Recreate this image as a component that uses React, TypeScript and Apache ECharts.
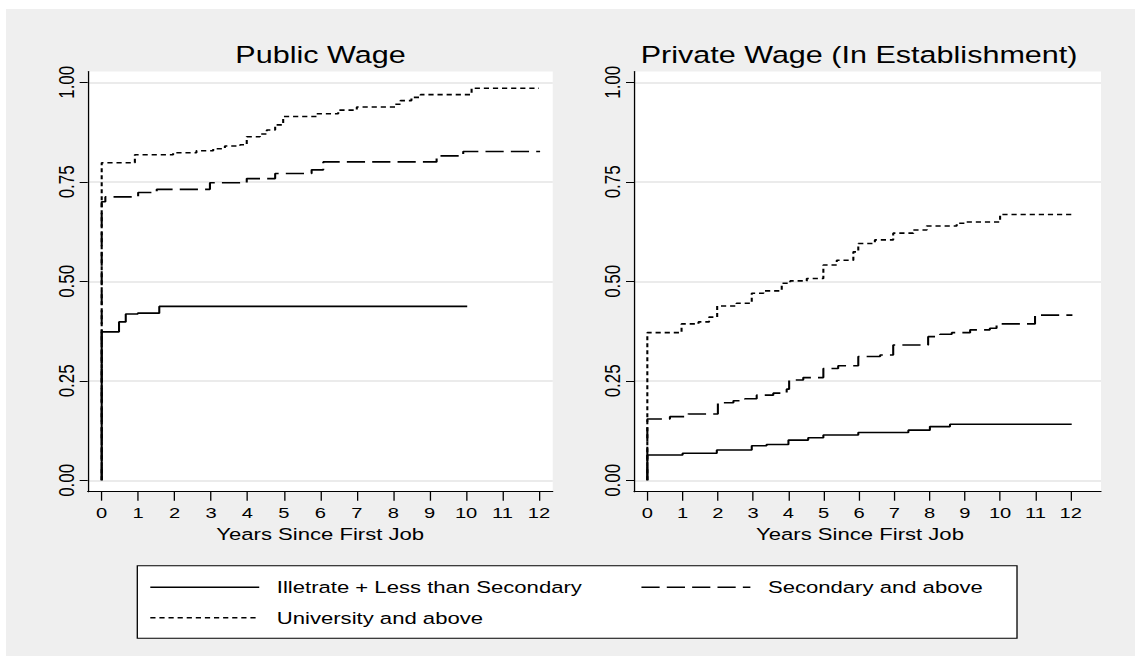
import React, { useEffect, useRef } from "react";
import * as echarts from "echarts";

// The whole figure is laid out in a narrower box and widened horizontally.
const STRETCH = 1.3;
const PAGE_W = 1129;
const PAGE_H = 647;
const CHART_W = PAGE_W / STRETCH;

const FONT = "'Liberation Sans', Arial, Helvetica, sans-serif";

const panelTitles = ["Public Wage", "Private Wage (In Establishment)"];
const xAxisTitle = "Years Since First Job";
const groupNames = [
  "Illetrate + Less than Secondary",
  "Secondary and above",
  "University and above",
];

const yTicks = [0, 0.25, 0.5, 0.75, 1];
const xTicks = [0, 1, 2, 3, 4, 5, 6, 7, 8, 9, 10, 11, 12];

// Cumulative share by years since first job: [years, share]
const publicIlliterate: [number, number][] = [
  [0, 0], [0, 0.373], [0.475, 0.398], [0.66, 0.418], [0.99, 0.42],
  [1.58, 0.437], [10.03, 0.437],
];
const publicSecondary: [number, number][] = [
  [0, 0], [0, 0.7], [0.1, 0.712], [1.0, 0.723], [1.51, 0.731],
  [2.97, 0.7475], [3.98, 0.758], [4.76, 0.771], [5.76, 0.78], [6.08, 0.8],
  [9.19, 0.815], [9.92, 0.826], [12.03, 0.826],
];
const publicUniversity: [number, number][] = [
  [0, 0], [0, 0.798], [0.91, 0.818], [1.96, 0.823], [2.6, 0.828],
  [3.06, 0.833], [3.38, 0.84], [3.8, 0.843], [3.98, 0.863], [4.34, 0.87],
  [4.53, 0.88], [4.76, 0.893], [4.98, 0.914], [5.9, 0.921], [6.49, 0.93],
  [7.0, 0.938], [8.05, 0.945], [8.2, 0.954], [8.5, 0.962], [8.75, 0.969],
  [10.15, 0.985], [12.0, 0.985],
];

const privateIlliterate: [number, number][] = [
  [0, 0], [0, 0.0636], [1.0, 0.068], [1.97, 0.076], [2.96, 0.087],
  [3.38, 0.09], [4.0, 0.101], [4.56, 0.107], [4.99, 0.114], [5.98, 0.12],
  [7.4, 0.126], [8.01, 0.135], [8.58, 0.141], [12.03, 0.141],
];
const privateSecondary: [number, number][] = [
  [0, 0], [0, 0.154], [0.64, 0.16], [1.16, 0.1666], [2.0, 0.195],
  [2.44, 0.2], [2.77, 0.205], [3.1, 0.214], [3.57, 0.219], [3.95, 0.229],
  [4.02, 0.252], [4.42, 0.258], [4.99, 0.281], [5.41, 0.288], [5.98, 0.311],
  [6.6, 0.315], [6.97, 0.34], [7.96, 0.361], [8.3, 0.367], [8.63, 0.371],
  [9.15, 0.378], [9.71, 0.382], [9.9, 0.393], [10.99, 0.415], [12.05, 0.415],
];
const privateUniversity: [number, number][] = [
  [0, 0], [0, 0.371], [0.97, 0.393], [1.45, 0.398], [1.75, 0.41],
  [1.98, 0.438], [2.53, 0.445], [2.96, 0.47], [3.29, 0.476], [3.81, 0.495],
  [4.05, 0.501], [4.52, 0.507], [4.99, 0.541], [5.37, 0.553], [5.84, 0.574],
  [5.98, 0.595], [6.45, 0.604], [6.97, 0.621], [7.54, 0.629], [7.92, 0.639],
  [8.77, 0.646], [9.0, 0.649], [10.0, 0.668], [12.07, 0.668],
];

const dashFor: (number[] | "solid")[] = ["solid", [14, 5.5], [4, 3]];

const panels = [
  {
    grid: { left: 62.85, top: 62.5, width: 357.7, height: 420.2 },
    xMin: -0.384,
    xMax: 12.376,
    titleX: 241.9,
    namePad: [0, 0, 0, 0],
    data: [publicIlliterate, publicSecondary, publicUniversity],
  },
  {
    grid: { left: 483.1, top: 62.5, width: 359.2, height: 420.2 },
    xMin: -0.377,
    xMax: 12.86,
    titleX: 656.2,
    namePad: [0, 11.6, 0, 0],
    data: [privateIlliterate, privateSecondary, privateUniversity],
  },
];

function buildOption(): echarts.EChartsOption {
  const grids = panels.map((p) => ({
    ...p.grid,
    show: true,
    backgroundColor: "#ffffff",
    borderWidth: 0,
    containLabel: false,
  }));

  const xAxes = panels.map((p, i) => ({
    type: "value" as const,
    gridIndex: i,
    min: p.xMin,
    max: p.xMax,
    name: xAxisTitle,
    nameLocation: "middle" as const,
    nameGap: 25,
    nameTextStyle: {
      fontSize: 17,
      color: "#000",
      fontFamily: FONT,
      padding: p.namePad,
    },
    axisLine: { show: true, onZero: false, lineStyle: { color: "#000", width: 1 } },
    axisTick: { show: true, customValues: xTicks, length: 9, lineStyle: { color: "#000", width: 1 } },
    axisLabel: {
      customValues: xTicks,
      fontSize: 15.5,
      color: "#000",
      fontFamily: FONT,
      margin: 13,
      formatter: (v: number) => String(v),
    },
    splitLine: { show: false },
  }));

  const yAxes = panels.map((_, i) => ({
    type: "value" as const,
    gridIndex: i,
    min: -0.0286,
    max: 1.0271,
    axisLine: { show: true, onZero: false, lineStyle: { color: "#000", width: 1 } },
    axisTick: { show: true, customValues: yTicks, length: 6.2, lineStyle: { color: "#000", width: 1 } },
    axisLabel: {
      customValues: yTicks,
      rotate: 90,
      fontSize: 17,
      color: "#000",
      fontFamily: FONT,
      margin: 8,
      formatter: (v: number) => v.toFixed(2),
    },
    splitLine: { show: true, lineStyle: { color: "#e4e4e4", width: 1.5 } },
  }));

  const series: any[] = [];
  panels.forEach((p, i) => {
    p.data.forEach((d, k) => {
      series.push({
        type: "line",
        name: groupNames[k],
        xAxisIndex: i,
        yAxisIndex: i,
        data: d,
        step: "end",
        symbol: "none",
        silent: true,
        lineStyle: { color: "#000", width: 1.6, type: dashFor[k] },
        itemStyle: { color: "#000", opacity: 0 },
      });
    });
  });

  // Legend keys show the line pattern only, no marker.
  const legendBase = {
    orient: "vertical" as const,
    top: 569.8,
    itemWidth: 83.8,
    itemHeight: 17,
    itemGap: 13.4,
    padding: 0,
    selectedMode: false,
    itemStyle: { color: "rgba(0,0,0,0)", borderWidth: 0, opacity: 0 },
    lineStyle: { color: "#000", width: 1.6 },
    textStyle: {
      fontSize: 17,
      color: "#000",
      fontFamily: FONT,
      padding: [0, 0, 0, 8.5],
    },
  };

  return {
    animation: false,
    backgroundColor: "transparent",
    title: panels.map((p, i) => ({
      text: panelTitles[i],
      left: p.titleX,
      top: 34,
      textAlign: "center" as const,
      padding: 0,
      textStyle: {
        fontSize: 23.5,
        fontWeight: "normal" as const,
        color: "#000",
        fontFamily: FONT,
      },
    })),
    grid: grids,
    xAxis: xAxes,
    yAxis: yAxes,
    legend: [
      { ...legendBase, left: 110.2, data: [groupNames[0], groupNames[2]] },
      { ...legendBase, left: 488, data: [groupNames[1]] },
    ],
    graphic: [
      {
        type: "rect",
        z: 0,
        shape: { x: 101, y: 556.7, width: 676.7, height: 72.6 },
        style: { fill: "#ffffff", stroke: "#000", lineWidth: 1 },
        silent: true,
      },
    ],
    series,
  };
}

export default function App() {
  const ref = useRef<HTMLDivElement>(null);

  useEffect(() => {
    if (!ref.current) return;
    const chart = echarts.init(ref.current, undefined, { renderer: "svg" });
    chart.setOption(buildOption());
    return () => chart.dispose();
  }, []);

  return (
    <div
      style={{
        position: "absolute",
        left: 6,
        top: 9,
        width: PAGE_W,
        height: PAGE_H,
        background: "#efefef",
        overflow: "hidden",
      }}
    >
      <div
        ref={ref}
        style={{
          width: CHART_W,
          height: PAGE_H,
          transform: `scaleX(${STRETCH})`,
          transformOrigin: "0 0",
        }}
      />
    </div>
  );
}
